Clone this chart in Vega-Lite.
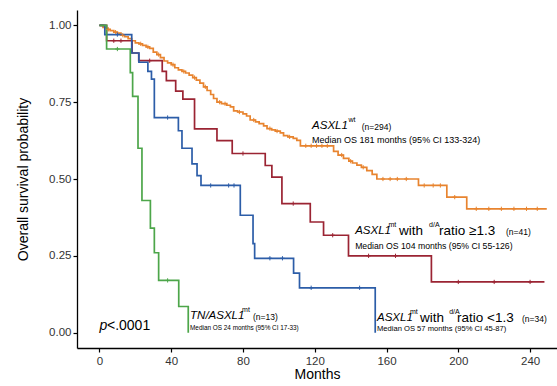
{
  "$schema": "https://vega.github.io/schema/vega-lite/v6.json",
  "width": 480,
  "height": 338,
  "autosize": {"type": "none"},
  "padding": {"left": 77, "top": 10, "right": 0, "bottom": 38},
  "background": "white",
  "config": {"view": {"stroke": null}, "font": "Liberation Sans"},
  "datasets": {
    "curves": [
      {"g": "wt", "t": 0, "s": 1.0}, {"g": "wt", "t": 2, "s": 0.993}, {"g": "wt", "t": 4, "s": 0.987}, {"g": "wt", "t": 6, "s": 0.983},
      {"g": "wt", "t": 8, "s": 0.978}, {"g": "wt", "t": 10, "s": 0.975}, {"g": "wt", "t": 12, "s": 0.968}, {"g": "wt", "t": 14, "s": 0.963},
      {"g": "wt", "t": 16, "s": 0.957}, {"g": "wt", "t": 18, "s": 0.95}, {"g": "wt", "t": 20, "s": 0.943}, {"g": "wt", "t": 22, "s": 0.94},
      {"g": "wt", "t": 24, "s": 0.935}, {"g": "wt", "t": 26, "s": 0.93}, {"g": "wt", "t": 28, "s": 0.925}, {"g": "wt", "t": 30, "s": 0.913},
      {"g": "wt", "t": 32, "s": 0.905}, {"g": "wt", "t": 34, "s": 0.895}, {"g": "wt", "t": 36, "s": 0.884}, {"g": "wt", "t": 38, "s": 0.878},
      {"g": "wt", "t": 40, "s": 0.872}, {"g": "wt", "t": 42, "s": 0.862}, {"g": "wt", "t": 44, "s": 0.855}, {"g": "wt", "t": 46, "s": 0.85},
      {"g": "wt", "t": 48, "s": 0.845}, {"g": "wt", "t": 50, "s": 0.838}, {"g": "wt", "t": 52, "s": 0.83}, {"g": "wt", "t": 54, "s": 0.822},
      {"g": "wt", "t": 56, "s": 0.812}, {"g": "wt", "t": 58, "s": 0.8}, {"g": "wt", "t": 60, "s": 0.788}, {"g": "wt", "t": 62, "s": 0.775},
      {"g": "wt", "t": 63.6, "s": 0.762}, {"g": "wt", "t": 65.5, "s": 0.75}, {"g": "wt", "t": 68, "s": 0.745}, {"g": "wt", "t": 71, "s": 0.74},
      {"g": "wt", "t": 73, "s": 0.735}, {"g": "wt", "t": 74.8, "s": 0.722}, {"g": "wt", "t": 77, "s": 0.718}, {"g": "wt", "t": 80, "s": 0.712},
      {"g": "wt", "t": 82, "s": 0.705}, {"g": "wt", "t": 84, "s": 0.692}, {"g": "wt", "t": 87, "s": 0.686}, {"g": "wt", "t": 89, "s": 0.68},
      {"g": "wt", "t": 91.5, "s": 0.673}, {"g": "wt", "t": 93.4, "s": 0.664}, {"g": "wt", "t": 96, "s": 0.66}, {"g": "wt", "t": 98, "s": 0.656},
      {"g": "wt", "t": 100.8, "s": 0.65}, {"g": "wt", "t": 102.6, "s": 0.641}, {"g": "wt", "t": 105, "s": 0.637}, {"g": "wt", "t": 108, "s": 0.632},
      {"g": "wt", "t": 110, "s": 0.626}, {"g": "wt", "t": 112, "s": 0.608}, {"g": "wt", "t": 130.5, "s": 0.59}, {"g": "wt", "t": 133, "s": 0.578},
      {"g": "wt", "t": 136, "s": 0.567}, {"g": "wt", "t": 139, "s": 0.558}, {"g": "wt", "t": 141, "s": 0.552}, {"g": "wt", "t": 143.5, "s": 0.545},
      {"g": "wt", "t": 146, "s": 0.538}, {"g": "wt", "t": 149, "s": 0.527}, {"g": "wt", "t": 152, "s": 0.515}, {"g": "wt", "t": 154.6, "s": 0.5},
      {"g": "wt", "t": 177.8, "s": 0.479}, {"g": "wt", "t": 193.6, "s": 0.441}, {"g": "wt", "t": 204.7, "s": 0.403}, {"g": "wt", "t": 249.3, "s": 0.403},

      {"g": "hi", "t": 0, "s": 1.0}, {"g": "hi", "t": 4, "s": 0.95}, {"g": "hi", "t": 18.2, "s": 0.91}, {"g": "hi", "t": 21.9, "s": 0.885},
      {"g": "hi", "t": 35, "s": 0.85}, {"g": "hi", "t": 37.3, "s": 0.82}, {"g": "hi", "t": 42.5, "s": 0.786}, {"g": "hi", "t": 46.5, "s": 0.76},
      {"g": "hi", "t": 53, "s": 0.663}, {"g": "hi", "t": 65.5, "s": 0.625}, {"g": "hi", "t": 74, "s": 0.583}, {"g": "hi", "t": 92.4, "s": 0.544},
      {"g": "hi", "t": 96.1, "s": 0.506}, {"g": "hi", "t": 101.7, "s": 0.42}, {"g": "hi", "t": 117.5, "s": 0.36}, {"g": "hi", "t": 124.9, "s": 0.317},
      {"g": "hi", "t": 138.8, "s": 0.25}, {"g": "hi", "t": 185, "s": 0.165}, {"g": "hi", "t": 248, "s": 0.165},

      {"g": "lo", "t": 0, "s": 1.0}, {"g": "lo", "t": 3, "s": 0.97}, {"g": "lo", "t": 18, "s": 0.91}, {"g": "lo", "t": 22, "s": 0.88},
      {"g": "lo", "t": 27, "s": 0.85}, {"g": "lo", "t": 29, "s": 0.825}, {"g": "lo", "t": 30.6, "s": 0.7}, {"g": "lo", "t": 44, "s": 0.657},
      {"g": "lo", "t": 46, "s": 0.6}, {"g": "lo", "t": 51.6, "s": 0.549}, {"g": "lo", "t": 54.4, "s": 0.511}, {"g": "lo", "t": 56.6, "s": 0.479},
      {"g": "lo", "t": 78.5, "s": 0.382}, {"g": "lo", "t": 85.6, "s": 0.29}, {"g": "lo", "t": 86.5, "s": 0.242}, {"g": "lo", "t": 108.2, "s": 0.194},
      {"g": "lo", "t": 111.5, "s": 0.146}, {"g": "lo", "t": 153.7, "s": 0.0},

      {"g": "tn", "t": 0, "s": 1.0}, {"g": "tn", "t": 4, "s": 0.923}, {"g": "tn", "t": 17.2, "s": 0.846}, {"g": "tn", "t": 18.5, "s": 0.769},
      {"g": "tn", "t": 21.5, "s": 0.6}, {"g": "tn", "t": 23.7, "s": 0.43}, {"g": "tn", "t": 28.4, "s": 0.34}, {"g": "tn", "t": 30.6, "s": 0.26},
      {"g": "tn", "t": 33, "s": 0.17}, {"g": "tn", "t": 44.2, "s": 0.085}, {"g": "tn", "t": 49.5, "s": 0.0}
    ],
    "censor": [
      {"g": "wt", "t": 5, "s": 0.987}, {"g": "wt", "t": 9, "s": 0.978}, {"g": "wt", "t": 13, "s": 0.968}, {"g": "wt", "t": 23, "s": 0.94},
      {"g": "wt", "t": 27, "s": 0.93}, {"g": "wt", "t": 33, "s": 0.905}, {"g": "wt", "t": 41, "s": 0.872}, {"g": "wt", "t": 47, "s": 0.85},
      {"g": "wt", "t": 53, "s": 0.83}, {"g": "wt", "t": 59, "s": 0.8}, {"g": "wt", "t": 67, "s": 0.75}, {"g": "wt", "t": 70, "s": 0.745},
      {"g": "wt", "t": 78, "s": 0.718}, {"g": "wt", "t": 86, "s": 0.692}, {"g": "wt", "t": 95, "s": 0.664}, {"g": "wt", "t": 99, "s": 0.656},
      {"g": "wt", "t": 106, "s": 0.637}, {"g": "wt", "t": 115, "s": 0.608}, {"g": "wt", "t": 118, "s": 0.608}, {"g": "wt", "t": 121, "s": 0.608},
      {"g": "wt", "t": 124, "s": 0.608}, {"g": "wt", "t": 127, "s": 0.608}, {"g": "wt", "t": 135, "s": 0.578}, {"g": "wt", "t": 140, "s": 0.558},
      {"g": "wt", "t": 147, "s": 0.538}, {"g": "wt", "t": 158, "s": 0.5}, {"g": "wt", "t": 162, "s": 0.5}, {"g": "wt", "t": 166, "s": 0.5},
      {"g": "wt", "t": 171, "s": 0.5}, {"g": "wt", "t": 181, "s": 0.479}, {"g": "wt", "t": 186, "s": 0.479}, {"g": "wt", "t": 190, "s": 0.479},
      {"g": "wt", "t": 198, "s": 0.441}, {"g": "wt", "t": 210, "s": 0.403}, {"g": "wt", "t": 217, "s": 0.403}, {"g": "wt", "t": 224, "s": 0.403},
      {"g": "wt", "t": 231, "s": 0.403}, {"g": "wt", "t": 238, "s": 0.403}, {"g": "wt", "t": 244, "s": 0.403},
      {"g": "hi", "t": 8, "s": 0.95}, {"g": "hi", "t": 12, "s": 0.95}, {"g": "hi", "t": 28, "s": 0.885}, {"g": "hi", "t": 80, "s": 0.583},
      {"g": "hi", "t": 108, "s": 0.42}, {"g": "hi", "t": 130, "s": 0.317}, {"g": "hi", "t": 150, "s": 0.25}, {"g": "hi", "t": 165, "s": 0.25},
      {"g": "hi", "t": 200, "s": 0.165}, {"g": "hi", "t": 220, "s": 0.165}, {"g": "hi", "t": 240, "s": 0.165},
      {"g": "lo", "t": 10, "s": 0.97}, {"g": "lo", "t": 38, "s": 0.7}, {"g": "lo", "t": 62, "s": 0.479}, {"g": "lo", "t": 72, "s": 0.479},
      {"g": "lo", "t": 75, "s": 0.479}, {"g": "lo", "t": 95, "s": 0.242}, {"g": "lo", "t": 102, "s": 0.242}, {"g": "lo", "t": 118, "s": 0.146},
      {"g": "lo", "t": 145, "s": 0.146},
      {"g": "tn", "t": 10, "s": 0.923}, {"g": "tn", "t": 38, "s": 0.17}
    ],
    "labels": [
      {"k": "gene", "txt": "ASXL1", "t": 118.5, "s": 0.672},
      {"k": "sup", "txt": "wt", "t": 138.8, "s": 0.692},
      {"k": "nn", "txt": "(n=294)", "t": 146.2, "s": 0.669},
      {"k": "med1", "txt": "Median OS 181 months (95% CI 133-324)", "t": 118.5, "s": 0.627},

      {"k": "gene", "txt": "ASXL1", "t": 142.5, "s": 0.331},
      {"k": "sup", "txt": "mt", "t": 161.1, "s": 0.35},
      {"k": "word", "txt": "with", "t": 167.0, "s": 0.331},
      {"k": "sup", "txt": "d/A", "t": 183.7, "s": 0.35},
      {"k": "word", "txt": "ratio ≥1.3", "t": 189.3, "s": 0.331},
      {"k": "nn", "txt": "(n=41)", "t": 226.6, "s": 0.327},
      {"k": "med2", "txt": "Median OS 104 months (95% CI 55-126)", "t": 142.5, "s": 0.282},

      {"k": "gene", "txt": "ASXL1", "t": 154.7, "s": 0.0475},
      {"k": "sup", "txt": "mt", "t": 173.1, "s": 0.067},
      {"k": "word", "txt": "with", "t": 178.7, "s": 0.0475},
      {"k": "sup", "txt": "d/A", "t": 194.9, "s": 0.067},
      {"k": "word", "txt": "ratio <1.3", "t": 199.3, "s": 0.0475},
      {"k": "nn", "txt": "(n=34)", "t": 235.5, "s": 0.044},
      {"k": "med5", "txt": "Median OS 57 months (95% CI 45-87)", "t": 154.7, "s": 0.012},

      {"k": "gene", "txt": "TN/ASXL1", "t": 50.5, "s": 0.054},
      {"k": "sup", "txt": "mt", "t": 79.5, "s": 0.073},
      {"k": "nn", "txt": "(n=13)", "t": 85.6, "s": 0.051},
      {"k": "med3", "txt": "Median OS 24 months (95% CI 17-33)", "t": 50.5, "s": 0.015},

      {"k": "pit", "txt": "p", "t": 0, "s": 0.0215},
      {"k": "pv", "txt": "<.0001", "t": 4.2, "s": 0.0215}
    ]
  },
  "layer": [
    {
      "data": {"name": "curves"},
      "mark": {"type": "line", "interpolate": "step-after", "strokeWidth": 1.7},
      "encoding": {
        "x": {
          "field": "t", "type": "quantitative",
          "scale": {"domain": [-12.5, 255], "nice": false, "zero": false},
          "axis": {
            "title": "Months", "values": [0, 40, 80, 120, 160, 200, 240], "grid": false,
            "domainColor": "#000", "domainWidth": 1.3, "tickColor": "#000", "tickWidth": 1.2, "tickSize": 4,
            "labelFontSize": 11.5, "labelColor": "#333", "labelPadding": 3,
            "titleFontSize": 14, "titleFontWeight": "normal", "titleColor": "#000", "titlePadding": 1
          }
        },
        "y": {
          "field": "s", "type": "quantitative",
          "scale": {"domain": [-0.05, 1.05], "nice": false, "zero": false},
          "axis": {
            "title": "Overall survival probability", "values": [0, 0.25, 0.5, 0.75, 1], "format": ".2f", "grid": false,
            "domainColor": "#000", "domainWidth": 1.3, "tickColor": "#000", "tickWidth": 1.2, "tickSize": 4,
            "labelFontSize": 11.5, "labelColor": "#333", "labelPadding": 2,
            "titleFontSize": 14, "titleFontWeight": "normal", "titleColor": "#000", "titlePadding": 18
          }
        },
        "color": {
          "field": "g", "type": "nominal",
          "scale": {"domain": ["wt", "hi", "lo", "tn"], "range": ["#E8842F", "#9B2433", "#2C5DA8", "#4DA64A"]},
          "legend": null
        },
        "detail": {"field": "g"}
      }
    },
    {
      "data": {"name": "censor"},
      "mark": {"type": "point", "shape": "M-1,0L1,0M0,-1L0,1", "filled": false, "strokeWidth": 1, "size": 18, "opacity": 1},
      "encoding": {
        "x": {"field": "t", "type": "quantitative"},
        "y": {"field": "s", "type": "quantitative"},
        "color": {"field": "g", "type": "nominal", "legend": null}
      }
    },
    {
      "data": {"name": "labels"},
      "transform": [{"filter": "datum.k === 'gene' || datum.k === 'pit'"}],
      "mark": {"type": "text", "align": "left", "baseline": "middle", "fontStyle": "italic", "color": "#000"},
      "encoding": {
        "x": {"field": "t", "type": "quantitative"},
        "y": {"field": "s", "type": "quantitative"},
        "text": {"field": "txt"},
        "size": {
          "field": "k", "type": "nominal",
          "scale": {"type": "ordinal", "domain": ["gene", "pit", "sup", "word", "nn", "pv", "med1", "med2", "med5", "med3"], "range": [11.5, 14, 7, 13.5, 8.5, 14, 9, 8.7, 7.6, 6.4]},
          "legend": null
        }
      }
    },
    {
      "data": {"name": "labels"},
      "transform": [{"filter": "datum.k !== 'gene' && datum.k !== 'pit'"}],
      "mark": {"type": "text", "align": "left", "baseline": "middle", "color": "#000"},
      "encoding": {
        "x": {"field": "t", "type": "quantitative"},
        "y": {"field": "s", "type": "quantitative"},
        "text": {"field": "txt"},
        "size": {
          "field": "k", "type": "nominal",
          "scale": {"type": "ordinal", "domain": ["gene", "pit", "sup", "word", "nn", "pv", "med1", "med2", "med5", "med3"], "range": [11.5, 14, 7, 13.5, 8.5, 14, 9, 8.7, 7.6, 6.4]},
          "legend": null
        }
      }
    }
  ]
}
